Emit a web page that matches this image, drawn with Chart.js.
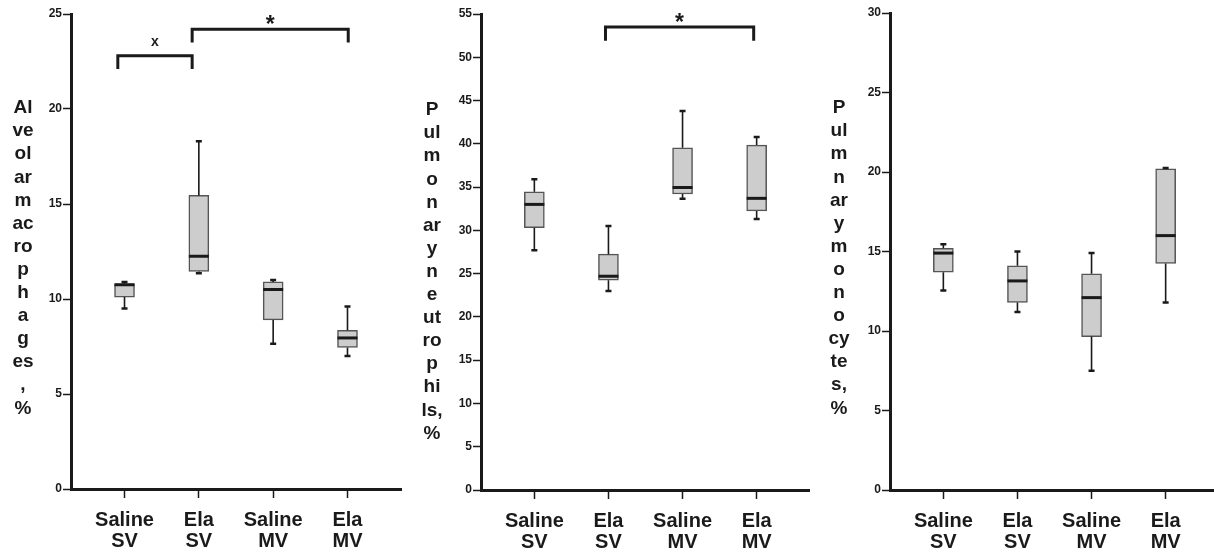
<!DOCTYPE html>
<html>
<head>
<meta charset="utf-8">
<script src="https://cdn.jsdelivr.net/npm/chart.js@4.4.0/dist/chart.umd.min.js"></script>
<style>
html, body { margin: 0; padding: 0; background: #fff; overflow: hidden; width: 1214px; height: 557px; }
.panel { position: absolute; top: 0; height: 557px; }
</style>
</head>
<body>
<div class="panel" style="left:0px;width:404px"><canvas id="chartMac" width="404" height="557"></canvas></div>
<div class="panel" style="left:404px;width:406px"><canvas id="chartNeu" width="406" height="557"></canvas></div>
<div class="panel" style="left:810px;width:409px"><canvas id="chartMon" width="409" height="557"></canvas></div>
<script>
//Data
const categories = [['Saline', 'SV'], ['Ela', 'SV'], ['Saline', 'MV'], ['Ela', 'MV']];
const categoryX = [0, 1, 2, 3];

// alveolar macrophages, %
const macMin = [9.5, 11.35, 7.65, 7.0];
const macQ1 = [10.1, 11.45, 8.9, 7.45];
const macMedian = [10.75, 12.25, 10.5, 7.95];
const macQ3 = [10.8, 15.45, 10.9, 8.35];
const macMax = [10.9, 18.3, 11.0, 9.6];
const macTicks = [0, 5, 10, 15, 20, 25];
const macTitle = ['Al', 've', 'ol', 'ar', 'm', 'ac', 'ro', 'p', 'h', 'a', 'g', 'es', ',', '%'];
const macBracketFrom = [-0.09, 0.91];
const macBracketTo = [0.91, 3.01];
const macBracketTop = [22.8, 24.2];
const macBracketLow = [22.1, 23.5];
const macBracketLabel = ['x', '*'];

// pulmonary neutrophils, %
const neuMin = [27.7, 23.0, 33.65, 31.3];
const neuQ1 = [30.3, 24.25, 34.2, 32.25];
const neuMedian = [33.0, 24.7, 34.95, 33.7];
const neuQ3 = [34.45, 27.25, 39.55, 39.85];
const neuMax = [35.9, 30.5, 43.8, 40.8];
const neuTicks = [0, 5, 10, 15, 20, 25, 30, 35, 40, 45, 50, 55];
const neuTitle = ['P', 'ul', 'm', 'o', 'n', 'ar', 'y', 'n', 'e', 'ut', 'ro', 'p', 'hi', 'ls,', '%'];
const neuBracketFrom = [0.96];
const neuBracketTo = [2.96];
const neuBracketTop = [53.5];
const neuBracketLow = [51.9];
const neuBracketLabel = ['*'];

// pulmonary monocytes, %
const monMin = [12.55, 11.2, 7.5, 11.8];
const monQ1 = [13.7, 11.8, 9.65, 14.25];
const monMedian = [14.9, 13.15, 12.1, 16.0];
const monQ3 = [15.2, 14.1, 13.6, 20.2];
const monMax = [15.45, 15.0, 14.9, 20.25];
const monTicks = [0, 5, 10, 15, 20, 25, 30];
const monTitle = ['P', 'ul', 'm', 'n', 'ar', 'y', 'm', 'o', 'n', 'o', 'cy', 'te', 's,', '%'];

const FONT = '"Liberation Sans", Arial, Helvetica, sans-serif';
const INK = '#1a1a1a';

function makePanel(canvasId, s, box) {
    // box: where the plot area sits inside the canvas
    const canvas = document.getElementById(canvasId);

    const datasets = [{
        type: 'bar',
        data: categoryX.map((x, i) => ({x: x, y: [s.q1[i], s.q3[i]]})),
        backgroundColor: '#cdcdcd',
        borderColor: '#555555',
        borderWidth: 1.5,
        borderSkipped: false,
        barThickness: 20,
        order: 2
    }];

    // significance brackets as plain lines
    s.bracketFrom.forEach((from, i) => {
        const to = s.bracketTo[i];
        datasets.push({
            type: 'line',
            data: [
                {x: from, y: s.bracketLow[i]},
                {x: from, y: s.bracketTop[i]},
                {x: to, y: s.bracketTop[i]},
                {x: to, y: s.bracketLow[i]}
            ],
            borderColor: INK,
            borderWidth: 3,
            pointRadius: 0,
            fill: false,
            tension: 0,
            order: 1
        });
    });

    const whiskers = {
        id: 'whiskers' + canvasId,
        afterDatasetsDraw(chart) {
            const xs = chart.scales.x;
            const ys = chart.scales.y;
            const ctx = chart.ctx;
            ctx.save();
            ctx.strokeStyle = INK;
            categoryX.forEach((c, i) => {
                const x = xs.getPixelForValue(c);
                const yMin = ys.getPixelForValue(s.min[i]);
                const yQ1 = ys.getPixelForValue(s.q1[i]);
                const yQ3 = ys.getPixelForValue(s.q3[i]);
                const yMax = ys.getPixelForValue(s.max[i]);
                const yMed = ys.getPixelForValue(s.median[i]);
                ctx.lineWidth = 1.6;
                ctx.beginPath();
                ctx.moveTo(x, yQ3); ctx.lineTo(x, yMax);
                ctx.moveTo(x, yQ1); ctx.lineTo(x, yMin);
                ctx.stroke();
                ctx.lineWidth = 2.5;
                ctx.beginPath();
                ctx.moveTo(x - 3, yMax); ctx.lineTo(x + 3, yMax);
                ctx.moveTo(x - 3, yMin); ctx.lineTo(x + 3, yMin);
                ctx.stroke();
                ctx.lineWidth = 3;
                ctx.beginPath();
                ctx.moveTo(x - 10, yMed); ctx.lineTo(x + 10, yMed);
                ctx.stroke();
            });
            ctx.restore();
        },
        afterDraw(chart) {
            const xs = chart.scales.x;
            const ys = chart.scales.y;
            const ctx = chart.ctx;
            ctx.save();
            ctx.fillStyle = INK;
            ctx.textAlign = 'center';
            // stacked axis title
            ctx.font = 'bold 19px ' + FONT;
            ctx.textBaseline = 'middle';
            s.title.forEach((t, i) => {
                ctx.fillText(t, box.titleX, box.titleY + i * 23.1);
            });
            // bracket labels
            ctx.textBaseline = 'alphabetic';
            s.bracketLabel.forEach((lab, i) => {
                const x = (xs.getPixelForValue(s.bracketFrom[i]) + xs.getPixelForValue(s.bracketTo[i])) / 2;
                const y = ys.getPixelForValue(s.bracketTop[i]);
                if (lab === '*') {
                    ctx.font = 'bold 23px ' + FONT;
                    ctx.fillText(lab, x, y + 3);
                } else {
                    ctx.font = 'bold 14px ' + FONT;
                    ctx.fillText(lab, x, y - 10);
                }
            });
            ctx.restore();
        }
    };

    return new Chart(canvas, {
        type: 'bar',
        data: {datasets: datasets},
        options: {
            responsive: false,
            animation: false,
            layout: {padding: {left: 0, right: canvas.width - box.right, top: box.top, bottom: 0}},
            plugins: {legend: {display: false}, tooltip: {enabled: false}},
            scales: {
                x: {
                    type: 'linear',
                    min: -0.72,
                    max: 3.72,
                    offset: false,
                    afterFit: (scale) => { scale.height = canvas.height - box.bottom; },
                    afterBuildTicks: (scale) => { scale.ticks = categoryX.map(v => ({value: v})); },
                    grid: {offset: false, drawOnChartArea: false, drawTicks: true, tickLength: 9, tickWidth: 1.5, tickColor: INK},
                    border: {display: true, width: 3, color: INK},
                    ticks: {
                        autoSkip: false,
                        maxRotation: 0,
                        padding: 12,
                        color: INK,
                        font: {family: FONT, size: 20, weight: 'bold', lineHeight: 1.05},
                        callback: (v) => categories[v]
                    }
                },
                y: {
                    min: 0,
                    max: s.ticks[s.ticks.length - 1],
                    afterFit: (scale) => { scale.width = box.left; },
                    afterBuildTicks: (scale) => { scale.ticks = s.ticks.map(v => ({value: v})); },
                    grid: {drawOnChartArea: false, drawTicks: true, tickLength: 8, tickWidth: 1.5, tickColor: INK},
                    border: {display: true, width: 3, color: INK},
                    ticks: {
                        padding: 1,
                        color: INK,
                        font: {family: FONT, size: 12, weight: 'bold'}
                    }
                }
            }
        },
        plugins: [whiskers]
    });
}

let chartMac = makePanel('chartMac', {
    min: macMin, q1: macQ1, median: macMedian, q3: macQ3, max: macMax,
    ticks: macTicks, title: macTitle,
    bracketFrom: macBracketFrom, bracketTo: macBracketTo,
    bracketTop: macBracketTop, bracketLow: macBracketLow, bracketLabel: macBracketLabel
}, {left: 71, right: 401, top: 14, bottom: 489, titleX: 23, titleY: 108});

let chartNeu = makePanel('chartNeu', {
    min: neuMin, q1: neuQ1, median: neuMedian, q3: neuQ3, max: neuMax,
    ticks: neuTicks, title: neuTitle,
    bracketFrom: neuBracketFrom, bracketTo: neuBracketTo,
    bracketTop: neuBracketTop, bracketLow: neuBracketLow, bracketLabel: neuBracketLabel
}, {left: 77, right: 406, top: 14, bottom: 490, titleX: 28, titleY: 110});

let chartMon = makePanel('chartMon', {
    min: monMin, q1: monQ1, median: monMedian, q3: monQ3, max: monMax,
    ticks: monTicks, title: monTitle,
    bracketFrom: [], bracketTo: [], bracketTop: [], bracketLow: [], bracketLabel: []
}, {left: 80, right: 409, top: 13, bottom: 490, titleX: 29, titleY: 108});
</script>
</body>
</html>
